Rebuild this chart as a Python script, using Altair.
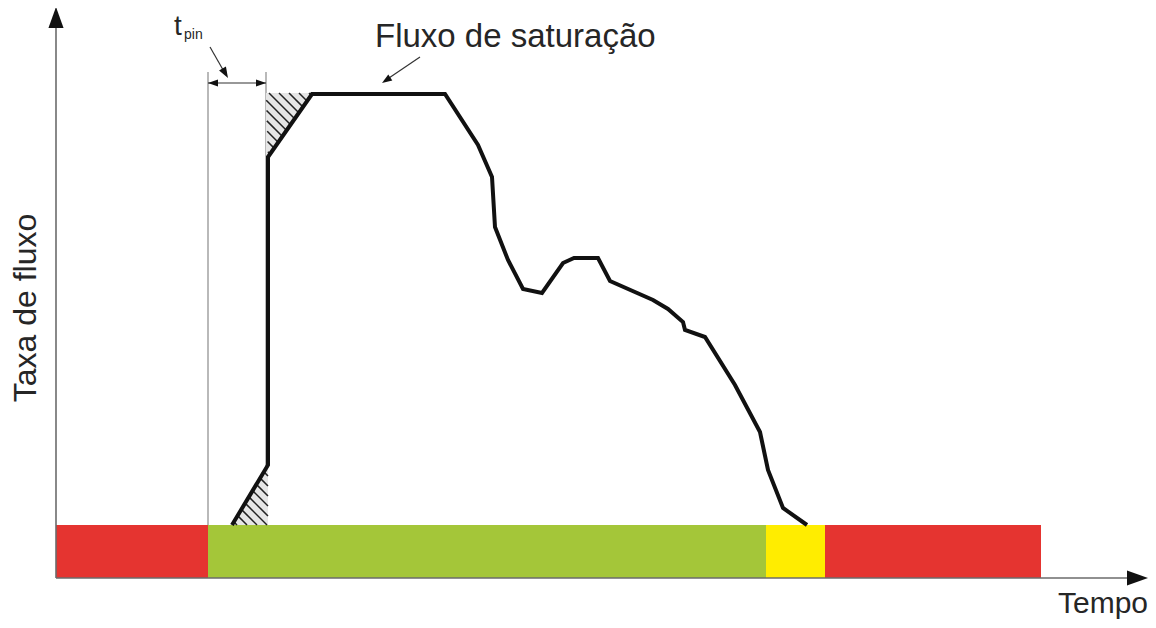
import altair as alt
import pandas as pd
import numpy as np

# ---------------- data (time units, flux units) ----------------
curve_t = [176, 212, 212, 256, 389, 422, 436, 439, 452, 467, 486, 507, 518, 542,
           554, 597, 612, 627, 629, 649, 679, 704, 712, 727, 751]
curve_f = [53, 113, 421, 484, 484, 433, 401, 351, 318, 289, 285, 315, 320, 320,
           297, 278, 269, 256, 248, 241, 193, 146, 108, 70, 53]

band_start = [0, 152, 710, 769]
band_end = [152, 710, 769, 985]
band_color = ["#E53430", "#A4C639", "#FFED00", "#E53430"]
band_top = 53

# hatched triangles (vertices)
tri_top = [(210, 485), (256, 485), (212, 421)]
tri_bottom = [(176, 53), (212, 53), (212, 113)]

t_pin_start = 152
t_pin_end = 210
guide_top = 506
dim_level = 495

X_DOM = [-48, 1092]
Y_DOM = [-42, 570]

xs = alt.Scale(domain=X_DOM, nice=False, zero=False)
ys = alt.Scale(domain=Y_DOM, nice=False, zero=False)

def X(f="t"):
    return alt.X(f + ":Q", scale=xs, axis=None)

def Y(f="f"):
    return alt.Y(f + ":Q", scale=ys, axis=None)

ARROW = "M0,0L-0.36,1L0.36,1Z"

# ---------------- bands ----------------
bands = pd.DataFrame({"t": band_start, "t2": band_end, "f": [0] * 4,
                      "f2": [band_top] * 4, "c": band_color})
band_layer = alt.Chart(bands).mark_rect(strokeWidth=0).encode(
    x=X("t"), x2="t2:Q", y=Y("f"), y2="f2:Q", color=alt.Color("c:N", scale=None))

# ---------------- axes ----------------
axes = pd.DataFrame({"t": [0, 0], "t2": [0, 1075], "f": [0, 0], "f2": [555, 0]})
axes_layer = alt.Chart(axes).mark_rule(color="#6b6b6b", strokeWidth=1.6).encode(
    x=X("t"), x2="t2:Q", y=Y("f"), y2="f2:Q")

axis_heads = pd.DataFrame({"t": [0, 1092], "f": [571, 0], "a": [0, 90], "s": [1764, 1764]})
axis_head_layer = alt.Chart(axis_heads).mark_point(
    shape=ARROW, filled=True, color="#111", opacity=1, strokeWidth=0).encode(
    x=X("t"), y=Y("f"), angle=alt.Angle("a:Q", scale=None), size=alt.Size("s:Q", scale=None))

# ---------------- guide lines ----------------
guides = pd.DataFrame({"t": [t_pin_start, t_pin_end], "t2": [t_pin_start, t_pin_end],
                       "f": [0, 0], "f2": [guide_top, guide_top]})
guide_layer = alt.Chart(guides).mark_rule(color="#8a8a8a", strokeWidth=1.2).encode(
    x=X("t"), x2="t2:Q", y=Y("f"), y2="f2:Q")

# ---------------- hatched triangles ----------------
tri_df = pd.DataFrame({
    "t": [210, 256, 176, 212],
    "lo": [421, 484, 53, 53],
    "hi": [485, 485, 53, 113],
    "g": ["a", "a", "b", "b"],
})
tri_layer = alt.Chart(tri_df).mark_area(color="#e6e6e6", opacity=1).encode(
    x=X("t"), y=Y("lo"), y2="hi:Q", detail="g:N")

def hatch(poly, step=10):
    segs = []
    sums = [p[0] + p[1] for p in poly]
    c = min(sums) + step / 2
    while c < max(sums):
        pts = []
        for i in range(len(poly)):
            p, q = poly[i], poly[(i + 1) % len(poly)]
            gp, gq = p[0] + p[1] - c, q[0] + q[1] - c
            if gp == gq:
                continue
            if (gp <= 0 <= gq) or (gq <= 0 <= gp):
                r = gp / (gp - gq)
                pts.append((p[0] + r * (q[0] - p[0]), p[1] + r * (q[1] - p[1])))
        if len(pts) >= 2:
            segs.append((pts[0][0], pts[0][1], pts[1][0], pts[1][1]))
        c += step
    return segs

hs = hatch(tri_top) + hatch(tri_bottom)
hatch_df = pd.DataFrame(hs, columns=["t", "f", "t2", "f2"])
hatch_layer = alt.Chart(hatch_df).mark_rule(color="#222", strokeWidth=1.5).encode(
    x=X("t"), y=Y("f"), x2="t2:Q", y2="f2:Q")

# ---------------- curve ----------------
curve = pd.DataFrame({"t": curve_t, "f": curve_f, "i": list(range(len(curve_t)))})
curve_layer = alt.Chart(curve).mark_line(color="#111", strokeWidth=4, strokeJoin="miter").encode(
    x=X("t"), y=Y("f"), order="i:Q")

# ---------------- annotation arrows ----------------
ann_lines = pd.DataFrame({
    "t": [t_pin_start, 154, 364],
    "f": [dim_level, 531, 521],
    "t2": [t_pin_end, 170, 330],
    "f2": [dim_level, 503, 498],
})
ann_line_layer = alt.Chart(ann_lines).mark_rule(color="#333", strokeWidth=1.2).encode(
    x=X("t"), y=Y("f"), x2="t2:Q", y2="f2:Q")

ann_heads = pd.DataFrame({
    "t": [t_pin_start, t_pin_end, 172, 326],
    "f": [dim_level, dim_level, 500, 495],
    "a": [270, 90, 150, 236],
    "s": [400, 400, 484, 400],
})
ann_head_layer = alt.Chart(ann_heads).mark_point(
    shape=ARROW, filled=True, color="#111", opacity=1, strokeWidth=0).encode(
    x=X("t"), y=Y("f"), angle=alt.Angle("a:Q", scale=None), size=alt.Size("s:Q", scale=None))

# ---------------- texts ----------------
FONT = "Liberation Sans"
TXT = "#262626"

def text_layer(label, t, f, size, align="left", baseline="alphabetic", angle=0):
    df = pd.DataFrame({"t": [t], "f": [f], "label": [label]})
    return alt.Chart(df).mark_text(font=FONT, fontSize=size, color=TXT, align=align,
                                   baseline=baseline, angle=angle).encode(
        x=X("t"), y=Y("f"), text="label:N")

texts = [
    text_layer("Taxa de fluxo", -30, 270, 32, align="center", baseline="middle", angle=270),
    text_layer("Tempo", 1092, -35, 30, align="right"),
    text_layer("Fluxo de saturação", 319, 531, 33),
    text_layer("t", 118, 543, 28),
    text_layer("pin", 128, 539, 14),
]

chart = alt.layer(
    guide_layer, band_layer, axes_layer, axis_head_layer, tri_layer, hatch_layer,
    curve_layer, ann_line_layer, ann_head_layer, *texts
).properties(width=1140, height=612, padding=0, autosize="none").configure_view(stroke=None)

chart.save("out.html", embed_options={"renderer": "svg", "actions": False})
